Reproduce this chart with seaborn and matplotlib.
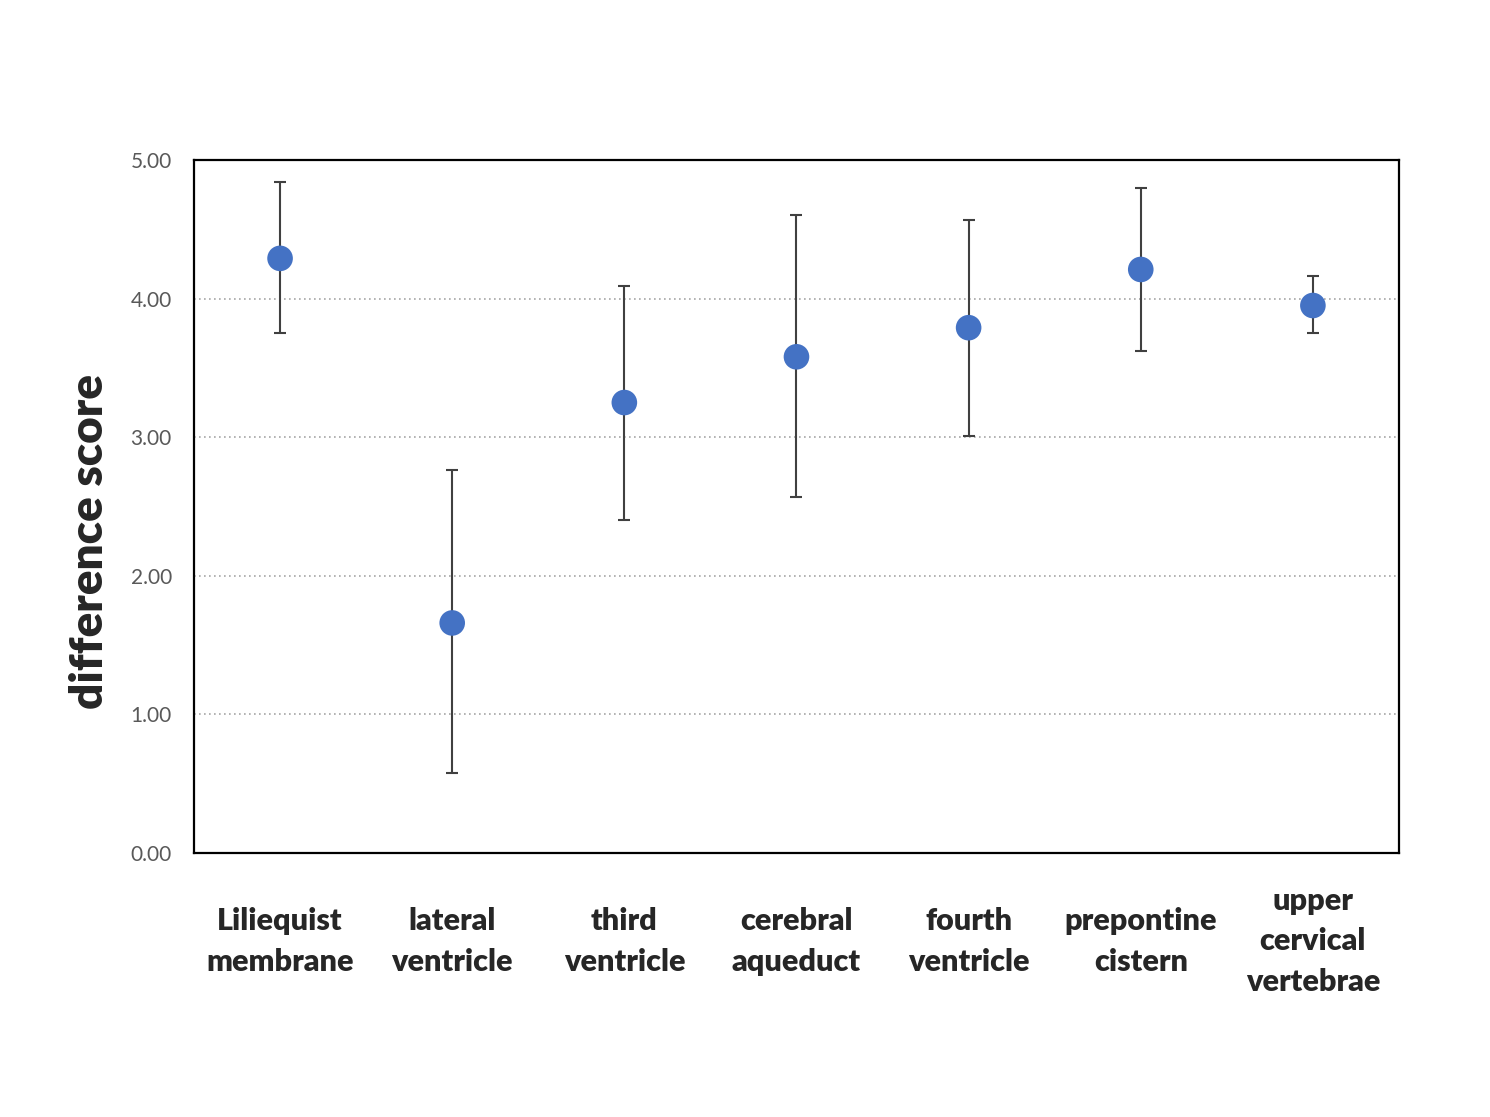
import pandas as pd
import seaborn as sns
import matplotlib.pyplot as plt

# structure names (tick labels)
regions = ["Liliequist\nmembrane", "lateral\nventricle", "third\nventricle",
           "cerebral\naqueduct", "fourth\nventricle", "prepontine\ncistern",
           "upper\ncervical\nvertebrae"]
# mean difference score and error bar ends
meanScore = [4.29, 1.66, 3.25, 3.58, 3.79, 4.21, 3.95]
lowerEnd = [3.75, 0.58, 2.40, 2.57, 3.01, 3.62, 3.75]
upperEnd = [4.84, 2.76, 4.09, 4.60, 4.57, 4.80, 4.16]

df = pd.DataFrame({"region": regions, "score": meanScore,
                   "lo": lowerEnd, "hi": upperEnd})
df["pos"] = range(len(df))

sns.set_style("white")
plt.rcParams['font.family'] = ['Lato', 'DejaVu Sans']

fig = plt.figure(figsize=(14.9, 11.17), dpi=100)
ax = fig.add_axes([0.1302, 0.2363, 0.8087, 0.6205])

# error bars first so markers sit on top
ax.errorbar(df["pos"], df["score"],
            yerr=[df["score"] - df["lo"], df["hi"] - df["score"]],
            fmt='none', ecolor='#404040', elinewidth=1.5, capsize=4.5,
            capthick=1.5, zorder=2)
sns.scatterplot(x="pos", y="score", data=df, ax=ax, color='#4472C4',
                s=340, edgecolor='none', zorder=3, legend=False)

ax.set_xlim(-0.5, 6.5)
ax.set_ylim(0, 5)
ax.set_yticks([0, 1, 2, 3, 4, 5])
ax.set_yticklabels(["{:.2f}".format(v) for v in [0, 1, 2, 3, 4, 5]],
                   fontsize=15, color='#595959')
ax.set_xticks(df["pos"])
ax.set_xticklabels(df["region"], fontsize=22, fontweight='heavy',
                   va='center', linespacing=1.55)
ax.set_xticks([6.5], minor=True)

ax.tick_params(axis='y', length=0, pad=16)
ax.tick_params(axis='x', which='both', direction='inout', length=13,
               width=1.5, color='black', pad=57)

for v in [1, 2, 3, 4]:
    ax.axhline(v, color='#A6A6A6', linestyle=(0, (1, 2)), linewidth=1.2, zorder=1)

for s in ax.spines.values():
    s.set_color('black')
    s.set_linewidth(1.6)

ax.set_xlabel("")
ax.set_ylabel("difference score", fontsize=33, fontweight='heavy')
ax.yaxis.set_label_coords(-0.070, 0.45)

plt.savefig("out.png", dpi=100)
